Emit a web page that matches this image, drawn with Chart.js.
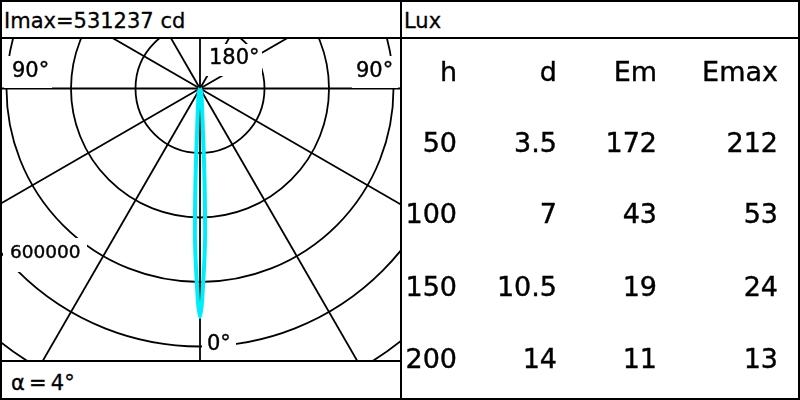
<!DOCTYPE html>
<html>
<head>
<meta charset="utf-8">
<script src="https://cdn.jsdelivr.net/npm/chart.js@4.4.1/dist/chart.umd.min.js"></script>
<style>
  html, body { margin: 0; padding: 0; background: #fff; }
  #sheet { position: relative; width: 800px; height: 400px; overflow: hidden; font-family: "DejaVu Sans", sans-serif; color: #000; }
  .ln { position: absolute; background: #000; }
  .txt { position: absolute; white-space: nowrap; line-height: 1; -webkit-text-stroke: 0.3px #000; }
  #polar { position: absolute; left: 0; top: 39px; }
  .cell { position: absolute; font-size: 27px; text-align: right; width: 110px; line-height: 1; -webkit-text-stroke: 0.4px #000; }
</style>
</head>
<body>
<div id="sheet">
  <canvas id="polar" width="400" height="321"></canvas>

  <!-- frame -->
  <div class="ln" style="left:0;top:0;width:800px;height:2px"></div>
  <div class="ln" style="left:0;top:398px;width:800px;height:2px"></div>
  <div class="ln" style="left:0;top:0;width:2px;height:400px"></div>
  <div class="ln" style="left:798px;top:0;width:2px;height:400px"></div>
  <div class="ln" style="left:0;top:37px;width:800px;height:2px"></div>
  <div class="ln" style="left:400px;top:0;width:2px;height:400px"></div>
  <div class="ln" style="left:0;top:360px;width:400px;height:2px"></div>

  <div class="txt" id="imax" style="left:4px;top:11px;font-size:21px"></div>
  <div class="txt" style="left:404px;top:11px;font-size:21px">Lux</div>
  <div class="txt" id="alpha" style="left:11px;top:373px;font-size:21px"></div>
  <div id="table"></div>
</div>

<script>
// photometric data (cd)
const imax = 531237;
const halfAngle = 4;
const beamAngles = [0, 0.5, 1, 1.5, 2, 2.5, 3, 3.5, 4, 5, 6, 8, 10, 15, 20, 30, 45, 90];
const beamCd = [531237, 500000, 445000, 395000, 340000, 260000, 190000, 130000, 95000, 65000, 45000, 30000, 22000, 12000, 6000, 2000, 500, 0];

// polar grid
const ringValues = [150000, 300000, 450000, 600000, 750000];
const ringLabel = "600000";
const spokeAngles = [0, 30, 60, 90, 120, 150, 180, 210, 240, 270, 300, 330];

// illuminance table
const tableHead = ["h", "d", "Em", "Emax"];
const heights = [50, 100, 150, 200];
const diameters = [3.5, 7, 10.5, 14];
const emean = [172, 43, 19, 11];
const emax = [212, 53, 24, 13];

document.getElementById("imax").textContent = "Imax=" + imax + " cd";
document.getElementById("alpha").textContent = "\u03B1\u2009=\u2009" + halfAngle + "\u00B0";

// table text
const colRight = [457, 557, 657, 778];
const rowBase = [79, 150, 221, 294, 366];
const rows = [tableHead].concat(heights.map((h, i) => [h, diameters[i], emean[i], emax[i]]));
const tbl = document.getElementById("table");
rows.forEach((row, r) => {
  row.forEach((v, c) => {
    const el = document.createElement("div");
    el.className = "cell";
    el.textContent = v;
    el.style.left = (colRight[c] - 110) + "px";
    el.style.top = (rowBase[r] - 21) + "px";
    tbl.appendChild(el);
  });
});

// beam curve in cartesian coords (angle measured from straight down)
const beamPoints = [];
for (let i = beamAngles.length - 1; i >= 0; i--) {
  const a = -beamAngles[i] * Math.PI / 180;
  beamPoints.push({ x: beamCd[i] * Math.sin(a), y: -beamCd[i] * Math.cos(a) });
}
for (let i = 1; i < beamAngles.length; i++) {
  const a = beamAngles[i] * Math.PI / 180;
  beamPoints.push({ x: beamCd[i] * Math.sin(a), y: -beamCd[i] * Math.cos(a) });
}

// scale: outer labelled ring (600000) is 258 px
const unit = 600000 / 258;
const cx = 200, cy = 49.5, W = 400, H = 321;

const polarGrid = {
  id: "polarGrid",
  beforeDatasetsDraw(chart) {
    const ctx = chart.ctx;
    const xs = chart.scales.x, ys = chart.scales.y;
    const ox = xs.getPixelForValue(0), oy = ys.getPixelForValue(0);
    ctx.save();
    ctx.strokeStyle = "#000";
    ctx.lineWidth = 1.8;
    ringValues.forEach((v) => {
      const r = xs.getPixelForValue(v) - ox;
      ctx.beginPath();
      ctx.arc(ox, oy, r, 0, Math.PI * 2);
      ctx.stroke();
    });
    spokeAngles.forEach((deg) => {
      const a = deg * Math.PI / 180;
      const far = 2000000;
      ctx.beginPath();
      ctx.moveTo(ox, oy);
      ctx.lineTo(xs.getPixelForValue(far * Math.sin(a)), ys.getPixelForValue(-far * Math.cos(a)));
      ctx.stroke();
    });

    // labels on white boxes
    const labels = [
      { t: "90\u00B0", x: 12, y: 33, box: [4, 17, 48, 32], size: 21 },
      { t: "90\u00B0", x: 356, y: 33, box: [352, 17, 46, 32], size: 21 },
      { t: "180\u00B0", x: 209, y: 20, box: [204, 5, 58, 32], size: 21 },
      { t: "0\u00B0", x: 207, y: 306, box: [202, 292, 34, 30], size: 21 },
      { t: ringLabel, x: 10, y: 214, box: [3, 199, 84, 34], size: 18.5 },
    ];
    ctx.textBaseline = "middle";
    labels.forEach((l) => {
      ctx.fillStyle = "#fff";
      ctx.fillRect(l.box[0], l.box[1], l.box[2], l.box[3]);
      ctx.fillStyle = "#000";
      ctx.strokeStyle = "#000";
      ctx.lineWidth = 0.4;
      ctx.font = l.size + "px 'DejaVu Sans'";
      ctx.fillText(l.t, l.x, l.y);
      ctx.strokeText(l.t, l.x, l.y);
    });
    ctx.restore();
  },
};

new Chart(document.getElementById("polar"), {
  type: "scatter",
  data: {
    datasets: [
      {
        data: beamPoints,
        showLine: true,
        borderColor: "rgb(0,238,250)",
        borderWidth: 4,
        pointRadius: 0,
        tension: 0.2,
        fill: false,
      },
    ],
  },
  options: {
    responsive: false,
    animation: false,
    devicePixelRatio: 1,
    layout: { padding: 0 },
    plugins: { legend: { display: false }, tooltip: { enabled: false } },
    scales: {
      x: { type: "linear", display: false, min: -cx * unit, max: (W - cx) * unit },
      y: { type: "linear", display: false, min: -(H - cy) * unit, max: cy * unit },
    },
  },
  plugins: [polarGrid],
});
</script>
</body>
</html>
